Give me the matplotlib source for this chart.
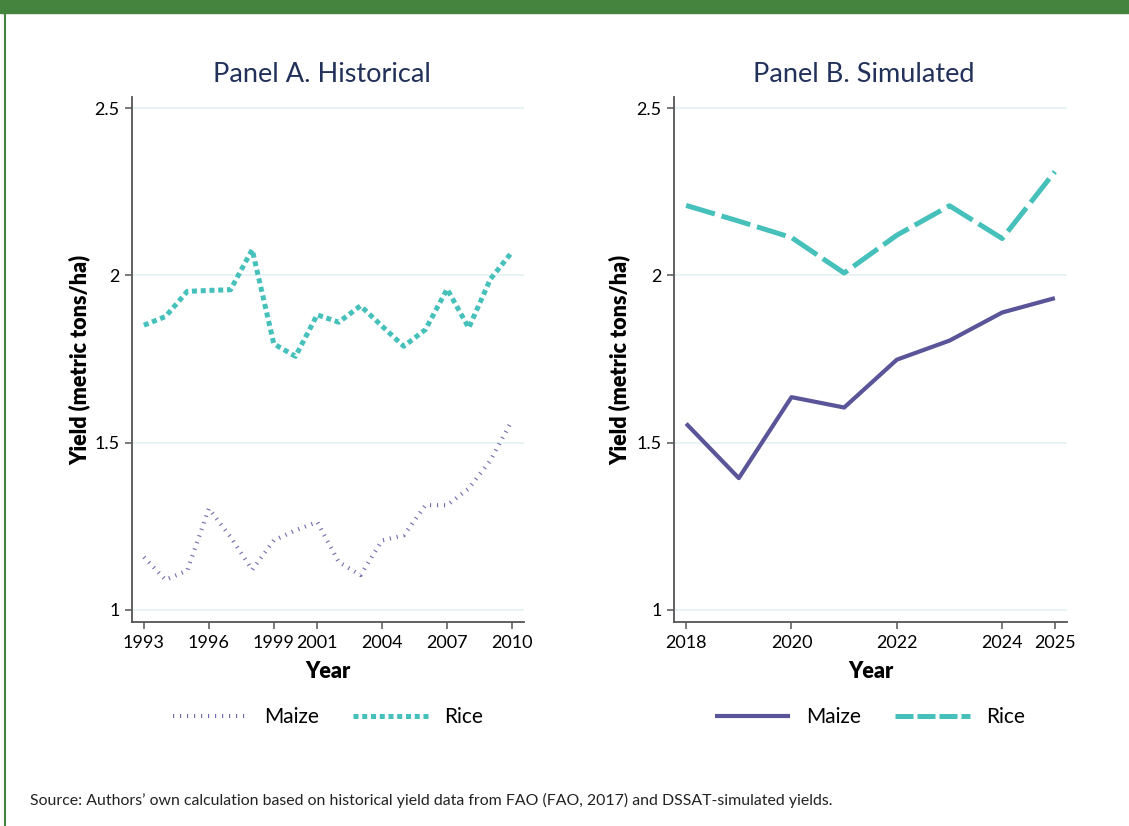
import matplotlib
matplotlib.use("Agg")
import matplotlib.pyplot as plt
from matplotlib.lines import Line2D
from matplotlib.patches import Rectangle

plt.rcParams['font.family'] = ['Lato', 'DejaVu Sans']

# ---- data ----
years_hist = list(range(1993, 2011))
maize_hist = [1.158, 1.09, 1.118, 1.303, 1.218, 1.12, 1.208, 1.238, 1.263, 1.143,
              1.104, 1.208, 1.223, 1.313, 1.313, 1.363, 1.447, 1.567]
rice_hist = [1.851, 1.877, 1.952, 1.955, 1.957, 2.077, 1.795, 1.758, 1.882, 1.86,
             1.909, 1.848, 1.788, 1.838, 1.959, 1.843, 1.989, 2.07]

years_sim = list(range(2018, 2026))
maize_sim = [1.557, 1.394, 1.636, 1.605, 1.748, 1.805, 1.889, 1.932]
rice_sim = [2.209, 2.162, 2.113, 2.007, 2.12, 2.208, 2.11, 2.31]

xticks_hist = [1993, 1996, 1999, 2001, 2004, 2007, 2010]
xticks_sim = [2018, 2020, 2022, 2024, 2025]
yticks = [1, 1.5, 2, 2.5]
ytick_labels = ["1", "1.5", "2", "2.5"]

TEAL = "#45C0BA"
PURPLE = "#5A5499"
PURPLE_LIGHT = "#7470B0"
GRID = "#E4F1F3"
NAVY = "#22315A"
GREEN = "#44843E"
SPINE = "#555555"

W, H = 1129, 826
fig = plt.figure(figsize=(W / 100, H / 100), dpi=100)

def fx(px):
    return px / W

def fy(py):
    return 1 - py / H

# border
fig.patches.append(Rectangle((0, fy(13)), 1, 13 / H, transform=fig.transFigure,
                             color=GREEN, zorder=0))
fig.add_artist(Line2D([fx(5), fx(5)], [0, fy(13)], color=GREEN, lw=1.5,
                      transform=fig.transFigure))

axA = fig.add_axes([fx(132), fy(622), fx(392), (622 - 97) / H])
axB = fig.add_axes([fx(674), fy(622), fx(393), (622 - 97) / H])

def style(ax, xticks, xlim, ylab_x):
    ax.set_ylim(0.964, 2.533)
    ax.set_xlim(*xlim)
    ax.set_yticks(yticks)
    ax.set_yticklabels(ytick_labels)
    ax.set_xticks(xticks)
    ax.set_xticklabels([str(t) for t in xticks])
    for s in ["top", "right"]:
        ax.spines[s].set_visible(False)
    for s in ["left", "bottom"]:
        ax.spines[s].set_color(SPINE)
        ax.spines[s].set_linewidth(1.3)
    ax.tick_params(axis="both", direction="out", length=5, width=1.1, color=SPINE,
                   labelsize=13, labelcolor="black", pad=4)
    ax.yaxis.grid(True, color=GRID, lw=1.2)
    ax.set_axisbelow(True)
    ax.set_ylabel("Yield (metric tons/ha)", fontsize=15.5, fontweight="heavy")
    ax.set_xlabel("Year", fontsize=15.5, fontweight="heavy")
    ax.yaxis.set_label_coords(ylab_x, 0.5)
    ax.xaxis.set_label_coords(0.5, -(671 - 622) / 525)
    ax.yaxis.label.set_va("center")
    ax.xaxis.label.set_va("center")

style(axA, xticks_hist, (1992.45, 2010.55), -52 / 392)
style(axB, xticks_sim, (2017.77, 2025.23), -54 / 393)

# Panel A
axA.plot(years_hist, maize_hist, color=PURPLE_LIGHT, lw=3.0,
         linestyle=(0, (0.28, 1.4)), dash_capstyle="butt")
axA.plot(years_hist, rice_hist, color=TEAL, lw=3.6,
         linestyle=(0, (1.0, 0.75)), dash_capstyle="butt")

# Panel B
axB.plot(years_sim, maize_sim, color=PURPLE, lw=3.0, solid_capstyle="butt")
axB.plot(years_sim, rice_sim, color=TEAL, lw=3.6,
         linestyle=(0, (6, 1.4)), dash_capstyle="butt")

# titles
fig.text(fx(322), fy(75), "Panel A. Historical", ha="center", va="center",
         fontsize=19.5, color=NAVY)
fig.text(fx(864), fy(75), "Panel B. Simulated", ha="center", va="center",
         fontsize=19.5, color=NAVY)

# legends
hA = [Line2D([], [], color=PURPLE_LIGHT, lw=3.0, linestyle=(0, (0.28, 1.4)), dash_capstyle="butt"),
      Line2D([], [], color=TEAL, lw=3.6, linestyle=(0, (1.0, 0.75)), dash_capstyle="butt")]
hB = [Line2D([], [], color=PURPLE, lw=3.0, solid_capstyle="butt"),
      Line2D([], [], color=TEAL, lw=3.6, linestyle=(0, (3.6, 0.8)), dash_capstyle="butt")]
legA = fig.legend(hA, ["Maize", "Rice"], loc="center", bbox_to_anchor=(fx(328), fy(717)),
                  ncol=2, frameon=False, fontsize=15, handlelength=3.6,
                  handletextpad=0.8, columnspacing=1.6)
legB = fig.legend(hB, ["Maize", "Rice"], loc="center", bbox_to_anchor=(fx(870), fy(717)),
                  ncol=2, frameon=False, fontsize=15, handlelength=3.6,
                  handletextpad=0.8, columnspacing=1.6)

fig.text(fx(30), fy(800), "Source: Authors\u2019 own calculation based on historical yield data "
         "from FAO (FAO, 2017) and DSSAT-simulated yields.", ha="left", va="center",
         fontsize=11.4, color="#222222")

fig.savefig("out.png", dpi=100)
